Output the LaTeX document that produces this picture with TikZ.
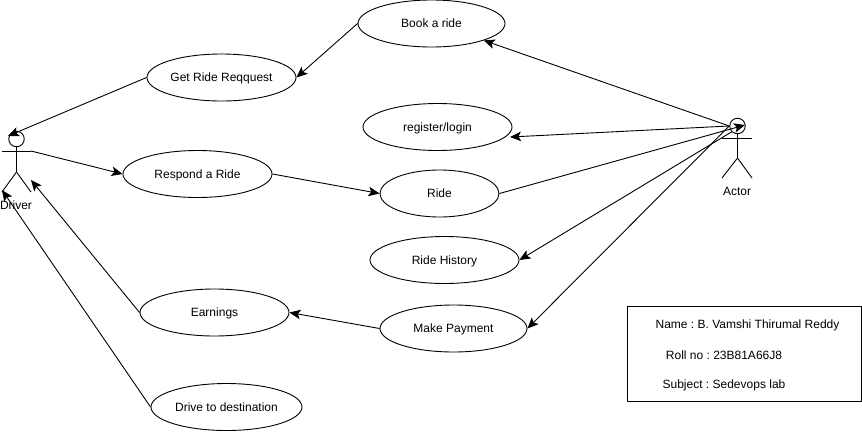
\documentclass[tikz,border=0pt]{standalone}
\usepackage{fontspec}
\setmainfont{Liberation Sans}
\usetikzlibrary{arrows.meta,shapes.geometric}
\tikzset{
	usecase/.style={draw,ellipse,minimum width=149pt,minimum height=47pt,inner sep=0pt,text depth=-1pt},
	plain/.style={font=\fontsize{12}{14}\selectfont\frenchspacing,inner sep=0pt}
}
\begin{document}
\begin{tikzpicture}[x=1pt,y=-1pt,->,>={Stealth[length=11pt,width=9.5pt,inset=2.5pt]},line width=0.9pt,line join=round,font=\fontsize{12}{14}\selectfont]
	\useasboundingbox (0,0) rectangle (862,432);
	\node[usecase,minimum width=147pt] (book) at (431.5,23.5){Book a ride};
	\node[usecase] (get) at (221.5,77.5){Get Ride Reqquest};
	\node[usecase] (respond) at (197.5,174){Respond a Ride};
	\node[usecase] (register) at (437.5,127){register/login};
	\node[usecase,minimum width=119pt] (ride) at (439.5,193.5){Ride};
	\node[usecase] (history) at (444.5,260){Ride History};
	\node[usecase,minimum width=147pt] (payment) at (453.5,328.5){Make Payment};
	\node[usecase] (earnings) at (214.5,312.5){Earnings};
	\node[usecase,minimum width=151pt] (destination) at (226.5,407){Drive to destination};
	% driver
	\node[draw,circle,minimum size=15.5pt,inner sep=0pt] (dhead) at (16.5,139){};
	\coordinate (dneck) at (16.5,147);
	\coordinate (dhip) at (16.5,172);
	\coordinate (darml) at (2,151);
	\coordinate (darmr) at (31,151);
	\coordinate (dfootl) at (2,192);
	\coordinate (dfootr) at (31,192);
	\coordinate (dtiphead) at (8,136);
	\coordinate (dtipfoot) at (2,190);
	\coordinate (dtipleg) at (31,180);
	\node[plain] (driver) at (16,205){Driver};
	% actor
	\node[draw,circle,minimum size=15.5pt,inner sep=0pt] (ahead) at (737.5,126){};
	\coordinate (aneck) at (737.5,134);
	\coordinate (ahip) at (737.5,158);
	\coordinate (aarml) at (722,138);
	\coordinate (aarmr) at (752,138);
	\coordinate (afootl) at (722,178);
	\coordinate (afootr) at (752,178);
	\coordinate (atip) at (745,125);
	\coordinate (rtip) at (510,137);
	\node[plain] (actor) at (737,191.5){Actor};
	\foreach \x/\y in {dneck/dhip,darml/darmr,dhip/dfootl,dhip/dfootr,aneck/ahip,aarml/aarmr,ahip/afootl,ahip/afootr}
	{
		\draw[-] (\x)--(\y);
	}
	\foreach \x/\y in
	{
		book.west/get.east,
		get.west/dtiphead,
		darmr/respond.west,
		respond.east/ride.west,
		ahead.west/book.south east,
		ahead.west/rtip,
		ride.east/atip,
		ahead.south west/history.east,
		ahead.west/payment.east,
		payment.west/earnings.east,
		earnings.west/dtipleg,
		destination.west/dtipfoot%
	}
	{
		\draw[->] (\x)--(\y);
	}
	% student details
	\node[draw,minimum width=234pt,minimum height=95pt,inner sep=0pt] (details) at (744.5,353.5){};
	\node[plain] (name) at (747.5,325){Name : B. Vamshi Thirumal Reddy};
	\node[plain] (roll) at (724,355){Roll no : 23B81A66J8};
	\node[plain] (subject) at (724,385){Subject : Sedevops lab};
\end{tikzpicture}
\end{document}
